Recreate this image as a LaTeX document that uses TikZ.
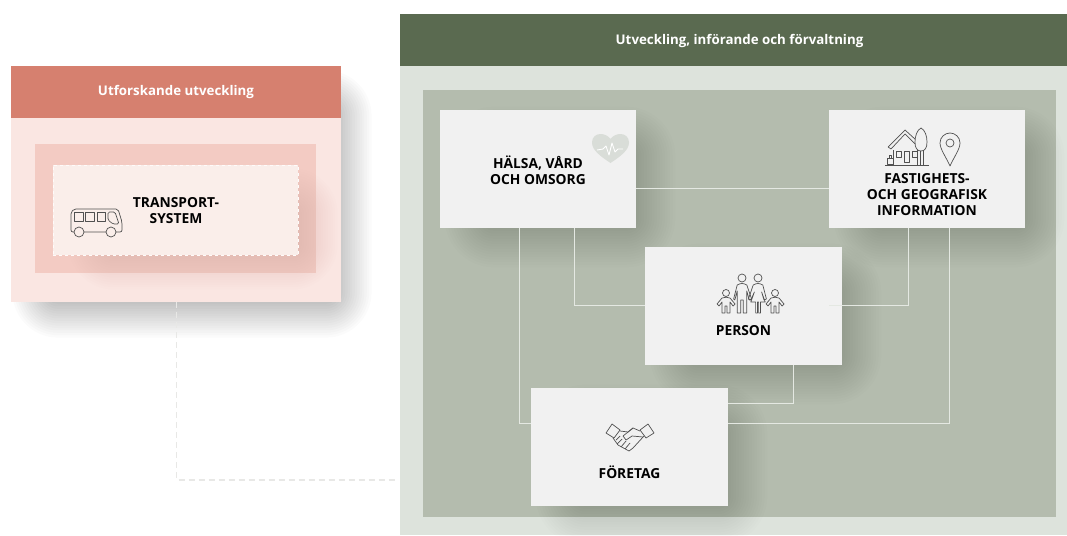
\documentclass[tikz,border=0pt]{standalone}
\usepackage{fontspec}
\setmainfont{Open Sans}
\definecolor{redhead}{HTML}{D6806F}
\definecolor{redbody}{HTML}{FAE6E2}
\definecolor{redmid}{HTML}{F3CBC3}
\definecolor{redcore}{HTML}{FAEEEA}
\definecolor{greenhead}{HTML}{5A6A50}
\definecolor{greenbody}{HTML}{DDE3DC}
\definecolor{greenmid}{HTML}{B4BCAE}
\definecolor{cardfill}{HTML}{F1F1F1}
\definecolor{linepale}{HTML}{E4E8E2}
\definecolor{dashpale}{HTML}{E8E8E6}
\definecolor{icondark}{HTML}{505050}
\definecolor{heartfill}{HTML}{D9DDD8}
\newcommand{\softbox}[7]{%
  \foreach \k in {1,...,20}{%
    \pgfmathsetmacro{\ex}{#5*(1-\k/20)*2-#5}
    \pgfmathsetmacro{\rc}{max(1,\ex+#5)}
    \fill[#6,opacity=#7,rounded corners=\rc pt] (#1-\ex,#2-\ex) rectangle (#3+\ex,#4+\ex);
  }%
}
\newcommand{\adultman}{%
  \draw[iconline] (0,0) circle (4);
  \begin{scope}[xscale=1.2]
  \draw[iconline] (-7,21) -- (-4,7) .. controls (-1,5) and (1,5) .. (4,7) -- (8,21) -- (6,22) -- (4,13) -- (4,35) -- (1,35) -- (1,22) -- (-1,22) -- (-1,35) -- (-4,35) -- (-4,13) -- (-6,22) -- cycle;
  \end{scope}
}
\newcommand{\adultwoman}{%
  \draw[iconline] (0,0) circle (4);
  \begin{scope}[xscale=1.2]
  \draw[iconline] (-8,21) -- (-4,7) .. controls (-1,5) and (1,5) .. (4,7) -- (7,21) -- (5,22) -- (3,14) -- (6,24) -- (2,24) -- (2,35) -- (0.5,35) -- (0.5,24) -- (-0.5,24) -- (-0.5,35) -- (-2,35) -- (-2,24) -- (-6,24) -- (-3,14) -- (-6,22) -- cycle;
  \end{scope}
}
\newcommand{\childfig}{%
  \draw[iconline] (0,0) circle (3.5);
  \draw[iconline] (-9,11) -- (-4,5) .. controls (-1,4) and (1,4) .. (4,5) -- (9,11) -- (7,13) -- (4,9) -- (4,20) -- (1,20) -- (1,13) -- (-1,13) -- (-1,20) -- (-4,20) -- (-4,9) -- (-7,13) -- cycle;
}
\tikzset{
  x=1pt,y=-1pt,
  iconline/.style={draw=icondark,line width=0.7pt,line join=round},
  cardbox/.style={rectangle,draw=none,fill=cardfill,inner sep=0pt,minimum width=196.5pt,minimum height=118pt},
  cardlabel/.style={font=\fontsize{13.8}{16}\selectfont\bfseries,align=center,text=black,inner sep=0pt},
  headlabel/.style={font=\fontsize{13.3}{15}\selectfont\bfseries,text=white,inner sep=0pt},
  linkline/.style={draw=linepale,line width=1pt,line join=miter},
  dashlink/.style={draw=dashpale,line width=1.1pt,dash pattern=on 6pt off 4pt},
}
\begin{document}
\begin{tikzpicture}
\useasboundingbox (0,0) rectangle (1067,535);
\fill[white] (0,0) rectangle (1067,535);

% left panel
\softbox{34}{92}{350}{316}{24}{black}{0.0145}
\node[rectangle,fill=redbody,inner sep=0pt,minimum width=330pt,minimum height=236pt] (leftbody) at (176,184) {};
\node[rectangle,fill=redhead,inner sep=0pt,minimum width=330pt,minimum height=52pt] (lefthead) at (176,92) {};
\node[headlabel] (lefttitle) at (176,92.5) {Utforskande utveckling};
\node[rectangle,fill=redmid,inner sep=0pt,minimum width=281pt,minimum height=129pt] (leftmid) at (175.5,208.5) {};
\softbox{90}{190}{316}{268}{24}{redhead}{0.011}
\node[rectangle,fill=redcore,draw=white!75!redcore,dashed,line width=0.9pt,inner sep=0pt,minimum width=245pt,minimum height=90pt] (leftcore) at (175.5,210) {};
\node[cardlabel] (transport) at (176,210.5) {TRANSPORT-\\SYSTEM};

% bus icon
\draw[iconline,rounded corners=2pt] (71,212) -- (71,232) -- (122,232) -- (122,222) -- (118,209) -- (74,209) -- cycle;
\draw[iconline] (74,212) rectangle (83,221);
\draw[iconline] (85,212) rectangle (94,221);
\draw[iconline] (97,212) rectangle (105,221);
\draw[iconline,rounded corners=1.5pt] (108,212) -- (115,212) -- (119,224) -- (113,224) -- (108,220) -- cycle;
\draw[iconline,fill=redcore] (79,232) circle (5);
\draw[iconline,fill=redcore] (111,232) circle (5);

% dashed link
\draw[dashlink] (leftbody.south -| 176.5,0) -- (176.5,480) -- (398,480);

% right panel
\node[rectangle,fill=greenbody,inner sep=0pt,minimum width=667pt,minimum height=469pt] (rightbody) at (733.5,300.5) {};
\node[rectangle,fill=greenhead,inner sep=0pt,minimum width=667pt,minimum height=52pt] (righthead) at (733.5,40) {};
\node[headlabel] (righttitle) at (739.5,41) {Utveckling, införande och förvaltning};
\node[rectangle,fill=greenmid,inner sep=0pt,minimum width=633pt,minimum height=427pt] (rightmid) at (739.5,303.5) {};

% card shadows
\softbox{468}{130}{652}{244}{26}{black}{0.0085}
\softbox{857}{130}{1041}{244}{26}{black}{0.0085}
\softbox{673}{267}{858}{381}{26}{black}{0.0085}
\softbox{559}{408}{744}{522}{26}{black}{0.0085}

% cards
\node[cardbox] (halsa) at (538,169) {};
\node[cardbox] (fast) at (927,168.5) {};
\node[cardbox] (person) at (743.5,306) {};
\node[cardbox] (foretag) at (629.5,447) {};

% links
\coordinate (a1) at (519,423);
\coordinate (a2) at (574,305);
\coordinate (a3) at (908,305);
\coordinate (a4) at (949,423);
\coordinate (a5) at (793,403);
\draw[linkline] (halsa.east |- 0,188) -- (fast.west |- 0,188);
\draw[linkline] (halsa.south -| a1) -- (a1) -- (foretag.west |- a1);
\draw[linkline] (halsa.south -| a2) -- (a2) -- (person.west |- a2);
\draw[linkline] (fast.south -| a3) -- (a3) -- (829,305);
\draw[linkline] (fast.south -| a4) -- (a4) -- (foretag.east |- a4);
\draw[linkline] (person.south -| a5) -- (a5) -- (foretag.east |- a5);

% card labels
\node[cardlabel] (halsalabel) at (538,170) {HÄLSA, VÅRD\\OCH OMSORG};
\node[cardlabel] (fastlabel) at (927,194.5) {FASTIGHETS-\\OCH GEOGRAFISK\\INFORMATION};
\node[cardlabel] (personlabel) at (743.5,331) {PERSON};
\node[cardlabel] (foretaglabel) at (629.5,472) {FÖRETAG};

% heart icon
\fill[heartfill] (610.5,163) .. controls (600,156) and (592,150) .. (592,142.5) .. controls (592,137) and (596,134) .. (600.5,134) .. controls (604.5,134) and (608.5,136) .. (610.5,139) .. controls (612.5,136) and (616.5,134) .. (620.5,134) .. controls (625,134) and (629,137) .. (629,142.5) .. controls (629,150) and (621,156) .. (610.5,163) -- cycle;
\draw[white,line width=0.9pt,line join=round] (597,150) -- (603,149) -- (606,146) -- (609,155) -- (612,143) -- (615,152) -- (618,149) -- (623,149);

% house icon
\draw[iconline] (885,165.5) -- (929,165.5);
\draw[iconline] (888,147) -- (905,130) -- (916,140);
\draw[iconline] (891,149) -- (905,134) -- (915,144);
\draw[iconline] (888,147) -- (891,149);
\draw[iconline] (893,150) -- (893,165);
\draw[iconline] (917,150) -- (917,165);
\draw[iconline] (896,151) rectangle (901,157);
\draw[iconline] (904,151) rectangle (909,162);
\draw[iconline] (912,151) rectangle (917,157);
\draw[iconline,fill=cardfill] (921,128) .. controls (925,130) and (927,136) .. (927,142) .. controls (927,148) and (925,151) .. (921,151) .. controls (917,151) and (915,148) .. (915,142) .. controls (915,136) and (917,130) .. (921,128) -- cycle;
\draw[iconline] (920,151) -- (920,165);
\draw[iconline] (923,151) -- (923,165);
\draw[iconline] (887,158) rectangle (893,164);
\draw[iconline] (889,158) -- (889,155) -- (891,155) -- (891,158);
% pin icon
\draw[iconline] (950,166) .. controls (946,157) and (940,149) .. (940,143) .. controls (940,137) and (945,133) .. (950,133) .. controls (955,133) and (960,137) .. (960,143) .. controls (960,149) and (954,157) .. (950,166) -- cycle;
\draw[iconline] (950,143) circle (4);

% family icon
\begin{scope}[shift={(742,278)}]\adultman\end{scope}
\begin{scope}[shift={(758,278)}]\adultwoman\end{scope}
\begin{scope}[shift={(726,293)}]\childfig\end{scope}
\begin{scope}[shift={(775,293)}]\childfig\end{scope}

% handshake icon
\draw[iconline] (606,433) -- (612,424) -- (620,430) -- (614,438) -- cycle;
\draw[iconline] (654,433) -- (648,424) -- (640,430) -- (646,438) -- cycle;
\draw[iconline] (620,431) -- (628,432) -- (633,428) -- (640,431);
\draw[iconline] (644,436) -- (633,448) -- (629,451) -- (618,445) -- (613,438);
\draw[iconline] (633,428) -- (623,436) -- (626,440) -- (632,436) -- (643,437);
\draw[iconline] (616,440) -- (620,436);
\draw[iconline] (617,444) -- (622,439);
\draw[iconline] (621,447) -- (626,441);
\draw[iconline] (625,449) -- (630,443);
\end{tikzpicture}
\end{document}
